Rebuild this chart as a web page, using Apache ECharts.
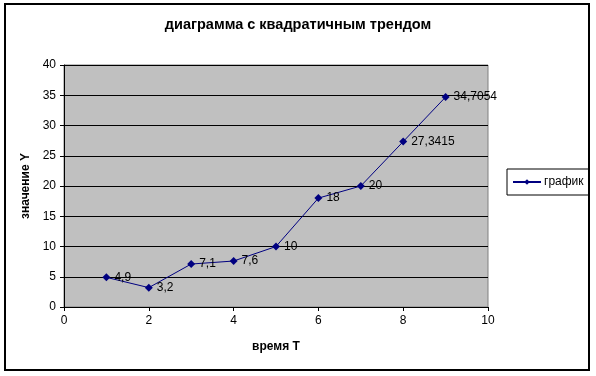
<!DOCTYPE html>
<html>
<head>
<meta charset="utf-8">
<script src="https://cdn.jsdelivr.net/npm/echarts@6/dist/echarts.min.js"></script>
<style>
	html,body{margin:0;padding:0;background:#fff;}
	#chart{width:596px;height:376px;}
</style>
</head>
<body>
<div id="chart"></div>
<script>
// данные графика
var timeT = [1, 2, 3, 4, 5, 6, 7, 8, 9];
var valueY = [4.9, 3.2, 7.1, 7.6, 10, 18, 20, 27.3415, 34.7054];
var seriesName = 'график';

var points = [];
for (var i = 0; i < timeT.length; i++) {
	points.push([timeT[i], valueY[i]]);
}

var chart = echarts.init(document.getElementById('chart'));
var fontFam = '"Liberation Sans", Arial, sans-serif';

chart.setOption({
	animation: false,
	textStyle: {fontFamily: fontFam},
	graphic: [{
		type: 'rect',
		shape: {x: 5, y: 4, width: 584, height: 366},
		style: {fill: 'none', stroke: '#000', lineWidth: 2},
		z: -1
	}],
	title: {
		text: 'диаграмма с квадратичным трендом',
		left: 'center',
		top: 12,
		textStyle: {fontSize: 14.5, fontWeight: 'bold', color: '#000', fontFamily: fontFam}
	},
	legend: {
		left: 507,
		top: 169,
		itemWidth: 28,
		itemHeight: 7,
		padding: [7, 5, 7, 5],
		borderColor: '#000',
		borderWidth: 1,
		itemGap: 2,
		data: [seriesName],
		textStyle: {fontSize: 12, color: '#000', fontFamily: fontFam, padding: [0, 0, 0, -2]}
	},
	grid: {
		left: 64, top: 65, width: 424, height: 242,
		show: true,
		backgroundColor: '#C0C0C0',
		borderColor: '#808080',
		borderWidth: 1
	},
	xAxis: {
		type: 'value',
		min: 0, max: 10, interval: 2,
		name: 'время T',
		nameLocation: 'middle',
		nameGap: 34,
		nameTextStyle: {fontSize: 12, fontWeight: 'bold', color: '#000'},
		axisLine: {lineStyle: {color: '#000', width: 1}},
		axisTick: {show: true, length: 4, lineStyle: {color: '#000'}},
		axisLabel: {fontSize: 12, color: '#000', margin: 8},
		splitLine: {show: false}
	},
	yAxis: {
		type: 'value',
		min: 0, max: 40, interval: 5,
		name: 'значение Y',
		nameLocation: 'middle',
		nameGap: 30,
		nameTextStyle: {fontSize: 12, fontWeight: 'bold', color: '#000'},
		axisLine: {show: true, lineStyle: {color: '#000', width: 1}},
		axisTick: {show: true, length: 4, lineStyle: {color: '#000'}},
		axisLabel: {fontSize: 12, color: '#000', margin: 8},
		splitLine: {show: true, lineStyle: {color: '#000', width: 1}}
	},
	series: [{
		name: seriesName,
		type: 'line',
		data: points,
		symbol: 'diamond',
		symbolSize: 8,
		lineStyle: {color: '#000080', width: 1},
		itemStyle: {color: '#000080'},
		label: {
			show: true,
			position: 'right',
			distance: 4,
			fontSize: 12,
			color: '#000',
			formatter: function (p) {
				return String(p.value[1]).replace('.', ',');
			}
		}
	}]
});
</script>
</body>
</html>
